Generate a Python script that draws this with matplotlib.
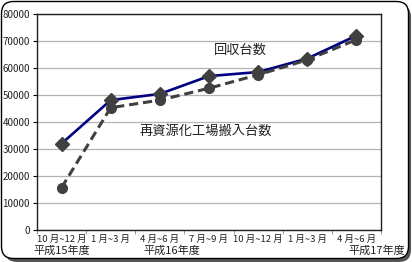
import numpy as np
import matplotlib.pyplot as plt
from matplotlib.patches import FancyBboxPatch
from matplotlib.transforms import IdentityTransform

plt.rcParams['font.family'] = ['Noto Sans CJK JP', 'DejaVu Sans']
plt.rcParams['text.color'] = '#222222'
plt.rcParams['xtick.labelcolor'] = '#222222'
plt.rcParams['ytick.labelcolor'] = '#222222'

# data
categories = ['10 月~12 月', '1 月~3 月', '4 月~6 月', '7 月~9 月',
              '10 月~12 月', '1 月~3 月', '4 月~6 月']
collected = [32000, 48100, 50400, 57000, 58500, 63500, 72000]
recycled = [15700, 45300, 48100, 52500, 57500, 63000, 70500]
years = ['平成15年度', '平成16年度', '平成17年度']
year_x = [62, 172, 377]

W, H = 412, 262
fig = plt.figure(figsize=(W / 100., H / 100.), dpi=100)
fig.patch.set_facecolor('white')

# rounded frame with shadow (pixel coords, origin bottom-left)
shadow = FancyBboxPatch((5, 0), W - 6, H - 5,
                        boxstyle='round,pad=0,rounding_size=12',
                        transform=IdentityTransform(), facecolor='#555555',
                        edgecolor='none', zorder=-2)
frame = FancyBboxPatch((1.5, 3.5), W - 5, H - 5,
                       boxstyle='round,pad=0,rounding_size=12',
                       transform=IdentityTransform(), facecolor='white',
                       edgecolor='black', linewidth=1.0, zorder=-1)
fig.patches.extend([shadow, frame])

ax = fig.add_axes([37 / W, 1 - 230 / H, (381 - 37) / W, (230 - 14) / H])
ax.set_facecolor('none')
x = np.arange(len(categories))

ax.plot(x, collected, color='#000080', lw=1.9, marker='D', ms=6.8,
        mfc='#404040', mec='#404040', zorder=3)
ax.plot(x, recycled, color='#404040', lw=2.2, ls=(0, (3, 1.6)), marker='o',
        ms=7, mfc='#404040', mec='#404040', zorder=4)

ax.set_xlim(-0.5, len(categories) - 0.5)
ax.set_ylim(0, 80000)
ax.set_yticks(np.arange(0, 80001, 10000))
ax.yaxis.grid(True, color='#b4b4b4', lw=0.9)
ax.set_axisbelow(True)
ax.tick_params(axis='y', labelsize=7, length=3, width=0.8, pad=2)

ax.set_xticks(x)
ax.set_xticklabels(categories, fontsize=6.8)
ax.set_xticks(np.arange(-0.5, len(categories), 1), minor=True)
ax.tick_params(axis='x', which='major', length=0, pad=3.5)
ax.tick_params(axis='x', which='minor', length=3, width=0.6, color='#888888')

for s in ax.spines.values():
    s.set_color('#202020')
    s.set_linewidth(1.0)

ax.text(3.64, 66700, '回収台数', fontsize=9.5, ha='center', va='center')
ax.text(2.93, 36700, '再資源化工場搬入台数', fontsize=9.5, ha='center',
        va='center')

for lab, px in zip(years, year_x):
    fig.text(px / W, 1 - 250.5 / H, lab, fontsize=8, ha='center', va='center')

fig.savefig('out.png', dpi=100)
